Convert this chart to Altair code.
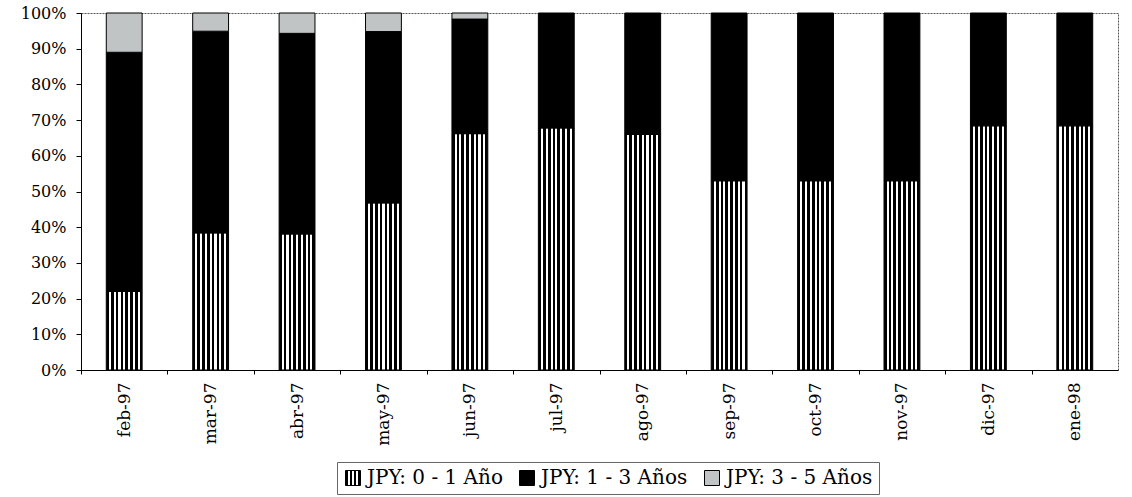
import altair as alt
import pandas as pd

# Monthly maturity breakdown of the JPY portfolio (share of total, %)
months = ["feb-97", "mar-97", "abr-97", "may-97", "jun-97", "jul-97",
          "ago-97", "sep-97", "oct-97", "nov-97", "dic-97", "ene-98"]
series = ["JPY: 0 - 1 Año", "JPY: 1 - 3 Años", "JPY: 3 - 5 Años"]
share_0_1 = [22.0, 38.4, 38.1, 46.8, 66.2, 67.8, 66.0, 53.0, 53.0, 53.0, 68.4, 68.4]
share_1_3 = [67.0, 56.5, 56.2, 48.0, 32.1, 32.2, 34.0, 47.0, 47.0, 47.0, 31.6, 31.6]
share_3_5 = [11.0, 5.1, 5.7, 5.2, 1.7, 0.0, 0.0, 0.0, 0.0, 0.0, 0.0, 0.0]

GRAY = "#c0c4c4"
FONT = "DejaVu Serif"


def stripe_stops(width, margin, white, black, count):
    """Hard-stop stops for vertical white pinstripes on a black ground."""
    stops = []

    def add(color, start, end):
        stops.append((min(start / width, 1.0), color))
        stops.append((min(end / width, 1.0), color))

    add("black", 0.0, margin)
    pos = margin
    for i in range(count):
        add("white", pos, pos + white)
        pos += white
        end = pos + black if i < count - 1 else width
        add("black", pos, end)
        pos = end
    return stops


def gradient_dict(stops):
    return {"gradient": "linear", "x1": 0, "y1": 0, "x2": 1, "y2": 0,
            "stops": [{"offset": o, "color": c} for o, c in stops]}


def gradient_expr(stops):
    parts = ", ".join("{offset: %.4f, color: '%s'}" % (o, c) for o, c in stops)
    return "{gradient: 'linear', x1: 0, y1: 0, x2: 1, y2: 0, stops: [%s]}" % parts


# pinstripe fill for the bars, coarser version for the legend key
bar_stripes = gradient_dict(stripe_stops(36.0, 2.6, 2.1, 2.7, 7))
key_stripes = gradient_expr(stripe_stops(15.0, 2.4, 2.2, 1.8, 3))

rows = []
for i, m in enumerate(months):
    for k, (name, vals) in enumerate(zip(series, [share_0_1, share_1_3, share_3_5])):
        if vals[i] > 0:
            rows.append({"mes": m, "serie": name, "orden": k, "pct": vals[i]})
df = pd.DataFrame(rows)

step = 1037 / 12

chart = alt.Chart(df).mark_bar(stroke="black", strokeWidth=1).encode(
    x=alt.X(
        "mes:N", sort=months, title=None,
        scale=alt.Scale(paddingInner=0.585, paddingOuter=0.2925),
        axis=alt.Axis(labelAngle=-90, labelFont=FONT, labelFontSize=17,
                      labelColor="black", tickSize=4, labelPadding=8,
                      tickOffset=-step / 2, labelOffset=step / 2,
                      domainColor="black", tickColor="black"),
    ),
    y=alt.Y(
        "pct:Q", stack="normalize", title=None,
        scale=alt.Scale(domain=[0, 1], nice=False),
        axis=alt.Axis(format=".0%", values=[i / 10 for i in range(11)],
                      labelFont=FONT, labelFontSize=16, labelColor="black",
                      tickSize=5, labelPadding=10, grid=False,
                      domainColor="black", tickColor="black"),
    ),
    fill=alt.Fill(
        "serie:N", sort=series,
        scale=alt.Scale(domain=series,
                        range=[alt.ExprRef(key_stripes), "black", GRAY]),
        condition={"test": "datum.serie === 'JPY: 0 - 1 Año'", "value": bar_stripes},
        legend=alt.Legend(
            title=None, orient="none", legendX=256, legendY=449,
            direction="horizontal", symbolType="square", symbolSize=225,
            symbolStrokeColor="black", symbolStrokeWidth=1,
            labelFont=FONT, labelFontSize=20, labelColor="black",
            labelOffset=4, columnPadding=14, padding=6, strokeColor="#666",
        ),
    ),
    order=alt.Order("orden:Q", sort="ascending"),
).properties(
    width=1037, height=357,
    padding={"left": 81, "top": 13, "right": 14, "bottom": 127},
    autosize=alt.AutoSizeParams(type="none"),
    background="white",
).configure_view(
    stroke="#555", strokeDash=[2, 1], strokeWidth=1,
)

chart.save("out.html", embed_options={"renderer": "svg", "actions": False})
